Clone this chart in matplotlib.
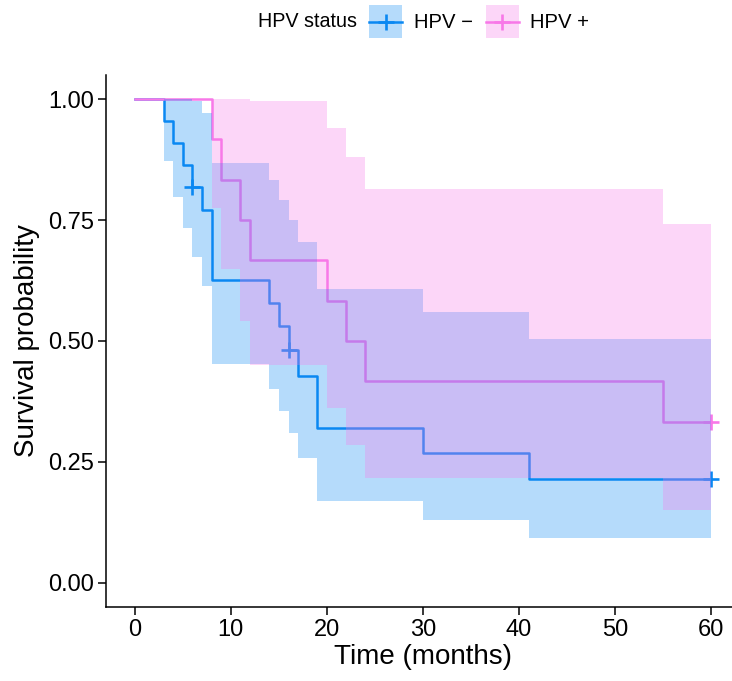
import matplotlib
matplotlib.use("Agg")
import matplotlib.pyplot as plt
from matplotlib.lines import Line2D
from matplotlib.patches import Patch
from matplotlib.legend_handler import HandlerLine2D

plt.rcParams['font.family'] = ['Liberation Sans', 'DejaVu Sans']

# HPV - (Kaplan-Meier steps)
time_neg = [0, 3, 4, 5, 6, 7, 8, 14, 15, 16, 17, 19, 30, 41, 60]
surv_neg = [1.0, 0.955, 0.909, 0.864, 0.818, 0.770, 0.627, 0.578, 0.530, 0.482, 0.428, 0.321, 0.268, 0.214, 0.214]
upper_neg = [1.0, 1.0, 1.0, 1.0, 0.996, 0.972, 0.869, 0.833, 0.792, 0.750, 0.705, 0.608, 0.560, 0.504, 0.504]
lower_neg = [1.0, 0.873, 0.797, 0.733, 0.674, 0.613, 0.452, 0.401, 0.355, 0.309, 0.259, 0.170, 0.129, 0.092, 0.092]
cens_t_neg = [6, 16, 60]
cens_s_neg = [0.818, 0.482, 0.214]

# HPV +
time_pos = [0, 8, 9, 11, 12, 20, 22, 24, 55, 60]
surv_pos = [1.0, 0.917, 0.833, 0.750, 0.667, 0.583, 0.500, 0.417, 0.333, 0.333]
upper_pos = [1.0, 1.0, 1.0, 1.0, 0.996, 0.940, 0.881, 0.814, 0.742, 0.742]
lower_pos = [1.0, 0.775, 0.649, 0.541, 0.450, 0.361, 0.284, 0.216, 0.151, 0.151]
cens_t_pos = [60]
cens_s_pos = [0.333]

labels = ["HPV \u2212", "HPV +"]
colors = ["#0A88F2", "#F878E8"]


class CenteredLine(HandlerLine2D):
    # put the legend line in the middle of the key box
    def create_artists(self, legend, orig_handle, xdescent, ydescent,
                       width, height, fontsize, trans):
        arts = super().create_artists(legend, orig_handle, xdescent, ydescent,
                                      width, height, fontsize, trans)
        for a in arts:
            a.set_ydata([height / 2 - ydescent] * len(a.get_xdata()))
        return arts


fig = plt.figure(figsize=(7.32, 6.81), dpi=100)
ax = fig.add_axes([0.1448, 0.1087, 0.8661, 0.7812])

groups = [
    (time_neg, surv_neg, lower_neg, upper_neg, cens_t_neg, cens_s_neg),
    (time_pos, surv_pos, lower_pos, upper_pos, cens_t_pos, cens_s_pos),
]

for (t, s, lo, up, ct, cs), col in zip(groups, colors):
    ax.step(t, s, where='post', color=col, lw=1.8, zorder=2)
    ax.plot(ct, cs, ls='none', marker='+', ms=11, mew=1.9, color=col, zorder=2)

# ribbons go on top of the curves (like ggsurvplot)
for (t, s, lo, up, ct, cs), col in zip(groups, colors):
    ax.fill_between(t, lo, up, step='post', color=col, alpha=0.3, lw=0, zorder=3)

ax.set_xlim(-3, 63)
ax.set_ylim(-0.05, 1.05)
ax.set_xticks([0, 10, 20, 30, 40, 50, 60])
ax.set_yticks([0, 0.25, 0.5, 0.75, 1.0])
ax.set_yticklabels(["0.00", "0.25", "0.50", "0.75", "1.00"])
ax.tick_params(labelsize=17, length=5.5, width=1.1, pad=3, colors='black')
for side in ['top', 'right']:
    ax.spines[side].set_visible(False)
for side in ['left', 'bottom']:
    ax.spines[side].set_linewidth(1.1)

ax.set_xlabel("Time (months)", fontsize=20, labelpad=2)
ax.set_ylabel("Survival probability", fontsize=20, labelpad=6)

handles = []
for col in colors:
    handles.append((Patch(facecolor=col, alpha=0.3, edgecolor='none'),
                    Line2D([], [], color=col, lw=1.8, marker='+', ms=11, mew=1.9)))

fig.text(0.352, 0.968, "HPV status", fontsize=14.2, ha='left', va='center')
fig.legend(handles, labels, loc='center left', bbox_to_anchor=(0.504, 0.968),
           ncol=2, frameon=False, fontsize=14.6, handlelength=1.65, handleheight=2.1,
           handletextpad=0.55, columnspacing=0.65, borderpad=0, borderaxespad=0,
           numpoints=1, handler_map={Line2D: CenteredLine()})

fig.savefig("out.png", dpi=100)
